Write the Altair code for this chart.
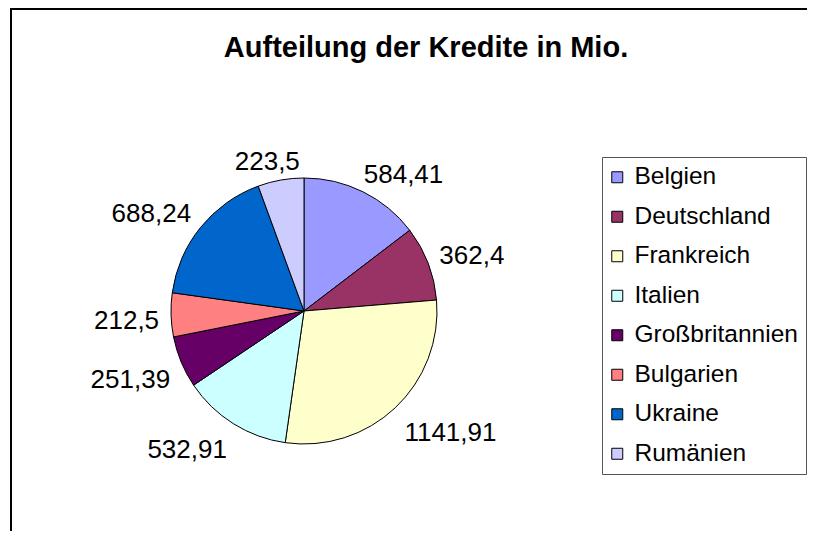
import altair as alt
import pandas as pd

title_text = "Aufteilung der Kredite in Mio."
countries = ["Belgien", "Deutschland", "Frankreich", "Italien", "Großbritannien",
             "Bulgarien", "Ukraine", "Rumänien"]
values = [584.41, 362.4, 1141.91, 532.91, 251.39, 212.5, 688.24, 223.5]
colors = ["#9999FF", "#993366", "#FFFFCC", "#CCFFFF", "#660066",
          "#FF8080", "#0066CC", "#CCCCFF"]

df = pd.DataFrame({"country": countries, "value": values,
                   "order": list(range(len(countries)))})

W, H = 799, 523
CX, CY, R = 296, 303, 133
FS = 26
FONT = "Liberation Sans"

base = alt.Chart(df)

pie = base.mark_arc(stroke="black", strokeWidth=1, outerRadius=R).encode(
    theta=alt.Theta("value:Q", stack=True),
    order=alt.Order("order:Q"),
    color=alt.Color(
        "country:N",
        scale=alt.Scale(domain=countries, range=colors),
        sort=countries,
        legend=alt.Legend(
            orient="none", legendX=594, legendY=149, title=None,
            symbolType="square", symbolSize=121, symbolStrokeColor="black",
            symbolStrokeWidth=1, symbolOpacity=1, symbolOffset=-5,
            labelFont=FONT, labelFontSize=24.5, labelColor="black",
            labelOffset=5, labelLimit=400, rowPadding=14.5,
            padding=8, strokeColor="#555555", fillColor="white",
        ),
    ),
    x=alt.value(CX),
    y=alt.value(CY),
)

labels = base.transform_joinaggregate(
    total="sum(value)"
).transform_window(
    cum="sum(value)", sort=[alt.SortField("order")], frame=[None, 0]
).transform_calculate(
    label="replace(toString(datum.value), '.', ',')",
    ang="(datum.cum - datum.value / 2) / datum.total * 2 * PI",
).transform_calculate(
    s="sin(datum.ang)", c="cos(datum.ang)",
    w=f"{FS} * (0.556 * (length(datum.label) - 1) + 0.278)",
).transform_calculate(
    lx=f"{CX} + 145 * datum.s + datum.w / 2 * clamp(2 * datum.s, -1, 1)",
    ly=f"{CY} + 5 - 145 * datum.c - 11 * clamp(2 * datum.c, -1, 1)",
).mark_text(font=FONT, fontSize=FS, align="center", baseline="middle",
            color="black").encode(
    x=alt.X("lx:Q", scale=None, axis=None),
    y=alt.Y("ly:Q", scale=None, axis=None),
    text="label:N",
)

title = alt.Chart(alt.Data(values=[{"t": title_text}])).mark_text(
    font=FONT, fontSize=29, fontWeight="bold", align="center",
    baseline="alphabetic", color="black"
).encode(text="t:N", x=alt.value(418), y=alt.value(49))

border_left = alt.Chart(alt.Data(values=[{"a": 1}])).mark_rule(
    color="black", strokeWidth=2
).encode(x=alt.value(3), y=alt.value(0), y2=alt.value(H))

border_top = alt.Chart(alt.Data(values=[{"a": 1}])).mark_rule(
    color="black", strokeWidth=2
).encode(x=alt.value(2), x2=alt.value(W), y=alt.value(1))

chart = alt.layer(pie, labels, title, border_left, border_top).properties(
    width=W, height=H,
    autosize=alt.AutoSizeParams(type="none"),
    padding=0,
).configure_view(stroke=None)

chart.save("out.html", embed_options={"renderer": "svg", "actions": False})
